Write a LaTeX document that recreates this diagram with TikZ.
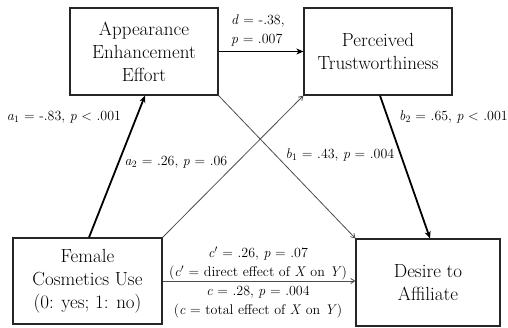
\documentclass[tikz,border=0pt]{standalone}
\usetikzlibrary{arrows.meta,calc}
\begin{document}
\begin{tikzpicture}[x=1pt,y=1pt,
  box/.style={draw=black!85,line width=1.2pt,inner sep=2pt,align=center,
    font=\rmfamily\fontsize{19}{23}\selectfont},
  lbl/.style={inner sep=0pt,font=\rmfamily\fontsize{14}{19}\selectfont},
  thickarr/.style={line width=1.8pt,-{Stealth[length=7pt,width=6pt,inset=2pt]}},
  thinarr/.style={draw=black!70,line width=0.8pt,-{Straight Barb[length=4pt,width=5pt]}}]
\useasboundingbox (0,0) rectangle (508,-328);
\node[box,minimum width=148pt,minimum height=87pt] (aee) at (144,-51.5) {Appearance\\Enhancement\\Effort};
\node[box,minimum width=148pt,minimum height=87pt] (pt) at (378,-51.5) {Perceived\\Trustworthiness};
\node[box,minimum width=149pt,minimum height=86pt] (fcu) at (87.5,-281) {Female\\Cosmetics Use\\(0: yes; 1: no)};
\node[box,minimum width=144pt,minimum height=87pt] (da) at (428,-282.5) {Desire to\\Affiliate};
% connectors
\draw[thickarr] (aee.east) -- (pt.west);
\draw[thickarr] ([xshift=1.5pt]fcu.north) -- ([xshift=1pt]aee.south);
\draw[thickarr] ([xshift=2pt]pt.south) -- ([xshift=2pt]da.north);
\draw[thinarr] (fcu.north east) -- (pt.south west);
\draw[thinarr] (aee.south east) -- (da.north west);
\coordinate (cend) at (fcu.east -| da.west);
\draw[thinarr] (fcu.east) -- (cend);
% labels
\node[lbl,anchor=west,align=left] (ld) at (231,-30.5) {\textit{d} = -.38,\\\textit{p} = .007};
\node[lbl] (la1) at (64,-117) {\textit{a}\textsubscript{1} = -.83, \textit{p} < .001};
\node[lbl] (la2) at (176,-162) {\textit{a}\textsubscript{2} = .26, \textit{p} = .06};
\node[lbl] (lb1) at (340,-155) {\textit{b}\textsubscript{1} = .43, \textit{p} = .004};
\node[lbl] (lb2) at (453.5,-117) {\textit{b}\textsubscript{2} = .65, \textit{p} < .001};
\node[lbl,anchor=south,align=center] (lc1) at (258,-280) {\textit{c}$'$ = .26, \textit{p} = .07\\(\textit{c}$'$ = direct effect of \textit{X} on \textit{Y})};
\node[lbl,anchor=north,align=center] (lc2) at (258,-286) {\textit{c} = .28, \textit{p} = .004\\(\textit{c} = total effect of \textit{X} on \textit{Y})};
\end{tikzpicture}
\end{document}
